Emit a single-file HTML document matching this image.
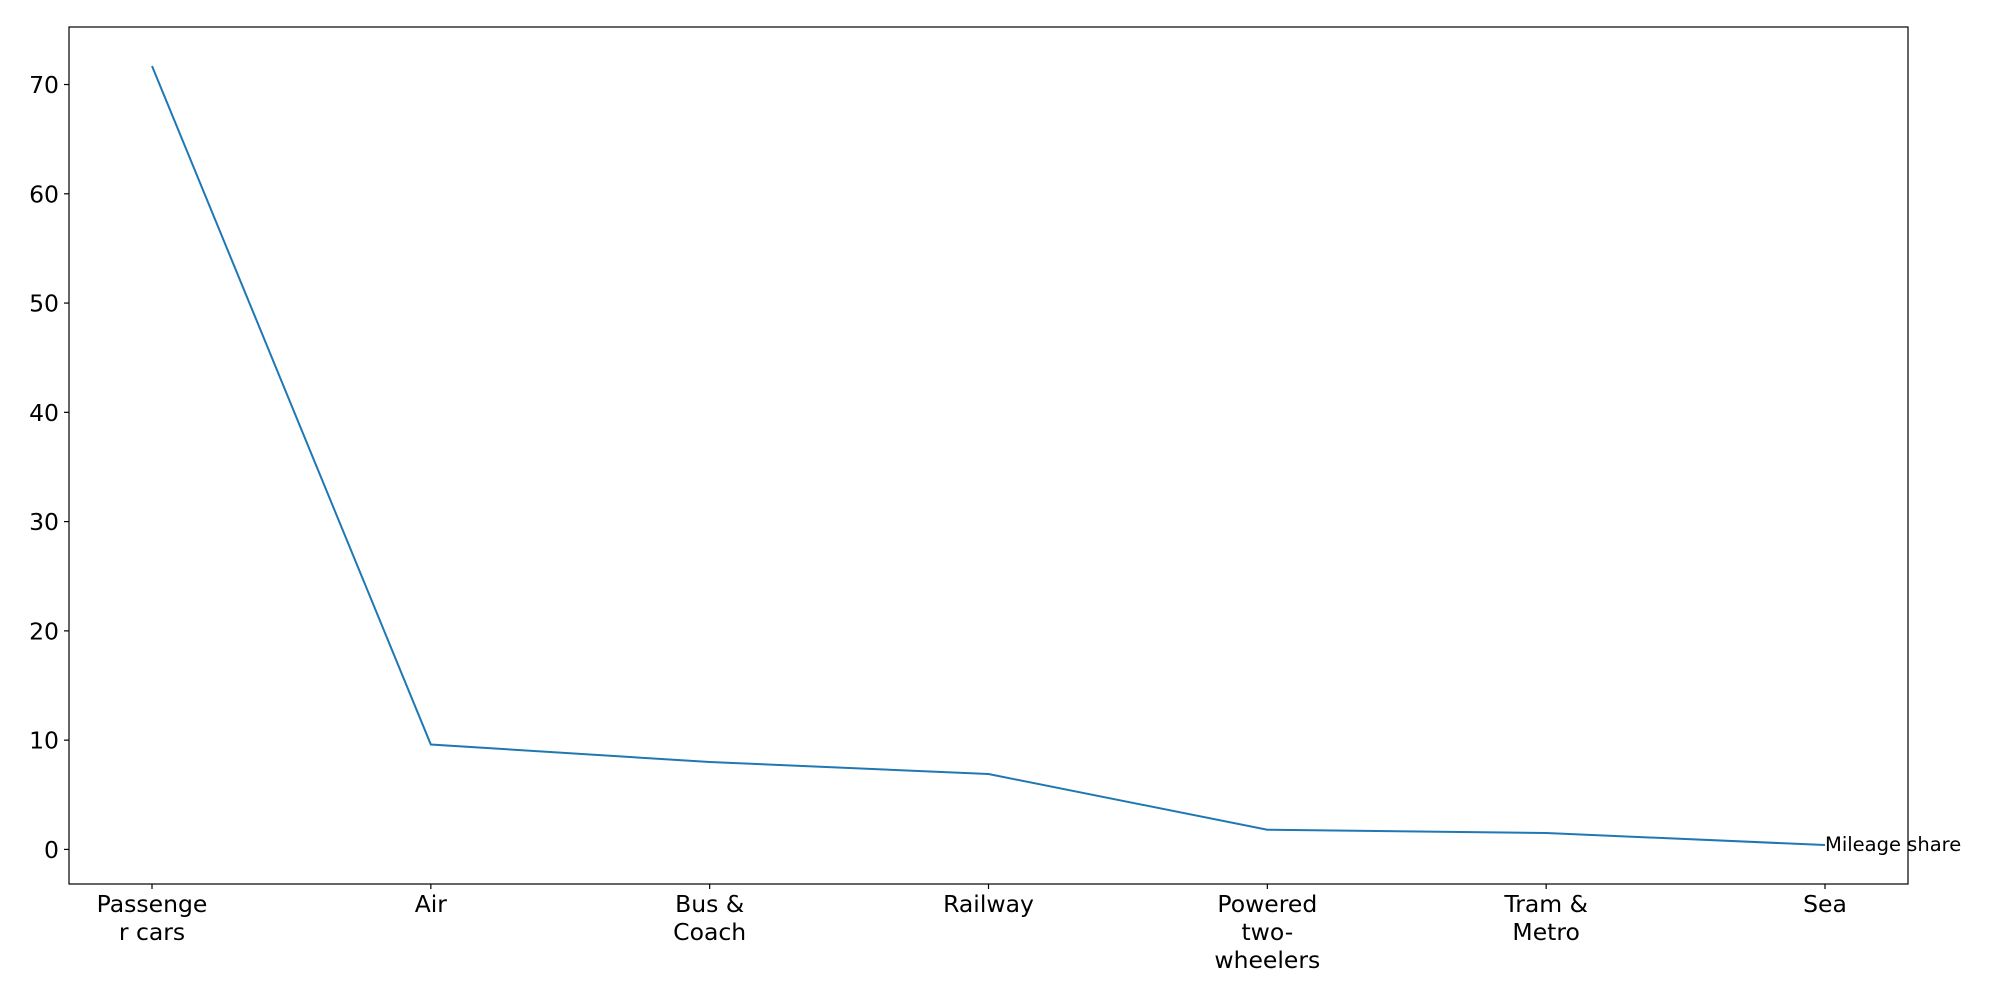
<!DOCTYPE html>
<html><head><meta charset="utf-8"><style>
html,body{margin:0;padding:0;background:#fff;width:2000px;height:1000px;overflow:hidden}
text{font-family:"DejaVu Sans","Liberation Sans",sans-serif;fill:#000}
</style></head><body>
<svg id="chart" width="2000" height="1000" xmlns="http://www.w3.org/2000/svg"></svg>
<script>
const categories = [["Passenge","r cars"],["Air"],["Bus &","Coach"],["Railway"],["Powered","two-","wheelers"],["Tram &","Metro"],["Sea"]];
const values = [71.7, 9.6, 8.0, 6.9, 1.8, 1.5, 0.4];
const yTicks = [0,10,20,30,40,50,60,70];
const seriesLabel = "Mileage share";

const L=69,R=1908,T=27,B=884;
const yMin=-3.165,yMax=75.265;
const x0=152,x1=1825;
function xs(i){return x0+(x1-x0)*i/(categories.length-1);}
function ys(v){return B-(v-yMin)/(yMax-yMin)*(B-T);}
const svg=document.getElementById('chart');
const NS="http://www.w3.org/2000/svg";
function mk(tag,attrs,parent){const e=document.createElementNS(NS,tag);for(const k in attrs)e.setAttribute(k,attrs[k]);(parent||svg).appendChild(e);return e;}

yTicks.forEach(v=>{
  const g=mk('g',{});
  
  
  mk('line',{x1:L-5,x2:L,y1:ys(v),y2:ys(v),stroke:'#000','stroke-width':1.2},g);
  const t=mk('text',{x:L-10,y:ys(v)+8.5,'text-anchor':'end','font-size':23.5},g);
  t.textContent=v;
});
categories.forEach((c,i)=>{
  const g=mk('g',{});
  
  
  mk('line',{x1:xs(i),x2:xs(i),y1:B,y2:B+5,stroke:'#000','stroke-width':1.2},g);
  c.forEach((ln,j)=>{
    const t=mk('text',{x:xs(i),y:912+j*28,'text-anchor':'middle','font-size':23.5},g);
    t.textContent=ln;
  });
});
const pts=values.map((v,i)=>xs(i)+','+ys(v)).join(' ');
const line=mk('polyline',{points:pts,fill:'none',stroke:'#1f77b4','stroke-width':2});


const lab=mk('text',{x:xs(values.length-1),y:ys(values[values.length-1])+6,'font-size':19.5});


lab.textContent=seriesLabel;
const frame=mk('rect',{x:L,y:T,width:R-L,height:B-T,fill:'none',stroke:'#000','stroke-width':1.2});


</script>
</body></html>
